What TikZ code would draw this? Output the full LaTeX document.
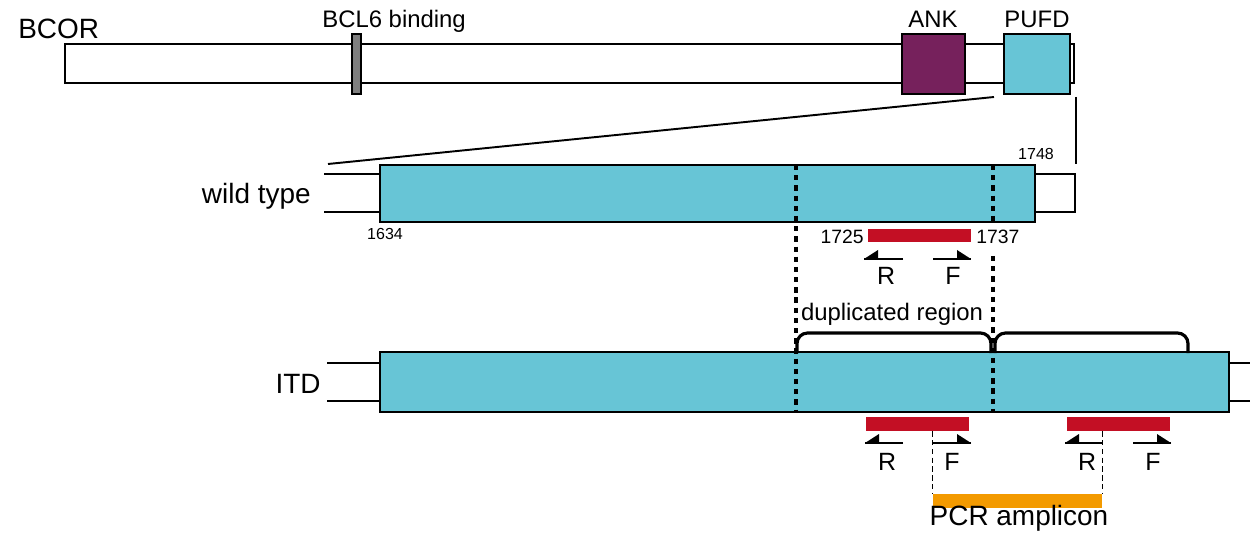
\documentclass[tikz,border=0pt]{standalone}
\usepackage{fontspec}
\setmainfont{Liberation Sans}
\usetikzlibrary{fit}
\definecolor{pufdcyan}{HTML}{67C5D6}
\definecolor{ankpurple}{HTML}{76215C}
\definecolor{primred}{HTML}{C30F24}
\definecolor{amporange}{HTML}{F39A00}
\definecolor{bclgray}{HTML}{7F7F7F}
\begin{document}
\begin{tikzpicture}[x=0.02cm,y=-0.02cm,
  box/.style={inner sep=0pt, outer sep=0pt, draw=black, line width=1.1pt},
  bigtxt/.style={inner sep=0pt, font=\fontsize{15.9}{18}\selectfont},
  midtxt/.style={inner sep=0pt, font=\fontsize{13.6}{16}\selectfont},
  primtxt/.style={inner sep=0pt, font=\fontsize{14.2}{16}\selectfont},
  numtxt/.style={inner sep=0pt, font=\fontsize{11}{13}\selectfont},
  smalltxt/.style={inner sep=0pt, font=\fontsize{9.1}{11}\selectfont},
  stub/.style={line width=1.1pt},
  dotline/.style={line width=2.5pt, dash pattern=on 3pt off 2.8pt},
  primbar/.style={fill=primred},
  primline/.style={line width=1.1pt},
  brace/.style={line width=1.8pt, rounded corners=6pt},
  ampdash/.style={line width=0.9pt, dash pattern=on 3pt off 2pt},
]
\useasboundingbox (0,0) rectangle (1250,540);

% ---------- BCOR protein ----------
\coordinate (bcA) at (65,44); \coordinate (bcB) at (1074,83);
\node[box, fill=white, fit=(bcA)(bcB)] (bcor) {};
\coordinate (bclA) at (352,34); \coordinate (bclB) at (361,94);
\node[box, fill=bclgray, fit=(bclA)(bclB)] (bcl) {};
\coordinate (ankA) at (902,34); \coordinate (ankB) at (965,94);
\node[box, fill=ankpurple, fit=(ankA)(ankB)] (ank) {};
\coordinate (pufA) at (1004,34); \coordinate (pufB) at (1070,94);
\node[box, fill=pufdcyan, fit=(pufA)(pufB)] (pufd) {};

\node[bigtxt, anchor=base west] (lbcor) at (18,39) {BCOR};
\node[midtxt, anchor=base west] (lbcl) at (322,28) {BCL6 binding};
\node[midtxt, anchor=base] (lank) at (933,28) {ANK};
\node[midtxt, anchor=base] (lpufd) at (1037,28) {PUFD};

% ---------- wild type ----------
\coordinate (wtA) at (380,165); \coordinate (wtB) at (1035,222);
\node[box, fill=pufdcyan, fit=(wtA)(wtB)] (wt) {};
\coordinate (wtrA) at (1035,174); \coordinate (wtrB) at (1075,212);
\node[box, fill=white, fit=(wtrA)(wtrB)] (wtr) {};
\coordinate (wtsl1) at (324,174); \coordinate (wtsl2) at (324,212);
\draw[stub] (wtsl1) -- (wtsl1 -| wt.west);
\draw[stub] (wtsl2) -- (wtsl2 -| wt.west);

% zoom lines
\coordinate (zl1) at (994,97); \coordinate (zl2) at (328,164);
\coordinate (zr1) at (1076,97); \coordinate (zr2) at (1076,164);
\draw[line width=1.1pt] (zl1) -- (zl2);
\draw[line width=1.1pt] (zr1) -- (zr2);

\node[bigtxt, anchor=base east] (lwt) at (311,204) {wild type};
\node[smalltxt, anchor=base] (l1634) at (385,240) {1634};
\node[smalltxt, anchor=base] (l1748) at (1036,160) {1748};

% primer region wild type
\coordinate (wpA) at (868,229); \coordinate (wpB) at (971,242);
\node[primbar, inner sep=0pt, fit=(wpA)(wpB)] (wprim) {};
\node[numtxt, anchor=base east] (l1725) at (864,244) {1725};
\node[numtxt, anchor=base west] (l1737) at (976,244) {1737};
\coordinate (wR1) at (903,259); \coordinate (wR2) at (864,259);
\coordinate (wF1) at (933,259); \coordinate (wF2) at (971,259);
\draw[primline] (wR1) -- (wR2);
\fill (wR2) -- ++(14,0) -- ++(0,-9) -- cycle;
\draw[primline] (wF1) -- (wF2);
\fill (wF2) -- ++(-14,0) -- ++(0,-9) -- cycle;
\node[primtxt, anchor=base] (wRl) at (886,285) {R};
\node[primtxt, anchor=base] (wFl) at (953,285) {F};

% ---------- ITD ----------
\coordinate (itA) at (380,352); \coordinate (itB) at (1229,412);
\node[box, fill=pufdcyan, fit=(itA)(itB)] (itd) {};
\coordinate (itsl1) at (327,363); \coordinate (itsl2) at (327,401);
\draw[stub] (itsl1) -- (itsl1 -| itd.west);
\draw[stub] (itsl2) -- (itsl2 -| itd.west);
\coordinate (itsr1) at (1250,363); \coordinate (itsr2) at (1250,401);
\draw[stub] (itsr1 -| itd.east) -- (itsr1);
\draw[stub] (itsr2 -| itd.east) -- (itsr2);
\node[bigtxt, anchor=base east] (litd) at (321,393) {ITD};

% dotted duplication boundaries
\coordinate (d1t) at (796,165); \coordinate (d1b) at (796,412);
\coordinate (d2t) at (993,165); \coordinate (d2m) at (993,222);
\coordinate (d2u) at (993,256); \coordinate (d2b) at (993,412);
\draw[dotline] (d1t) -- (d1b);
\draw[dotline] (d2t) -- (d2m);
\draw[dotline] (d2u) -- (d2b);

% braces
\coordinate (b1a) at (797,353); \coordinate (b1b) at (991,353);
\coordinate (b2a) at (995,353); \coordinate (b2b) at (1188,353);
\draw[brace] (b1a) -- ++(0,-20) -| (b1b);
\draw[brace] (b2a) -- ++(0,-20) -| (b2b);
\node[midtxt, anchor=base] (ldup) at (892,320) {duplicated region};

% primers ITD
\coordinate (p1A) at (866,417); \coordinate (p1B) at (969,431);
\node[primbar, inner sep=0pt, fit=(p1A)(p1B)] (prim1) {};
\coordinate (p2A) at (1067,417); \coordinate (p2B) at (1170,431);
\node[primbar, inner sep=0pt, fit=(p2A)(p2B)] (prim2) {};
\coordinate (iR1a) at (903,443); \coordinate (iR1b) at (865,443);
\coordinate (iF1a) at (933,443); \coordinate (iF1b) at (971,443);
\coordinate (iR2a) at (1102,443); \coordinate (iR2b) at (1065,443);
\coordinate (iF2a) at (1133,443); \coordinate (iF2b) at (1171,443);
\draw[primline] (iR1a) -- (iR1b);
\fill (iR1b) -- ++(14,0) -- ++(0,-9) -- cycle;
\draw[primline] (iF1a) -- (iF1b);
\fill (iF1b) -- ++(-14,0) -- ++(0,-9) -- cycle;
\draw[primline] (iR2a) -- (iR2b);
\fill (iR2b) -- ++(14,0) -- ++(0,-9) -- cycle;
\draw[primline] (iF2a) -- (iF2b);
\fill (iF2b) -- ++(-14,0) -- ++(0,-9) -- cycle;
\node[primtxt, anchor=base] (iR1l) at (887,470) {R};
\node[primtxt, anchor=base] (iF1l) at (952,470) {F};
\node[primtxt, anchor=base] (iR2l) at (1087,470) {R};
\node[primtxt, anchor=base] (iF2l) at (1153,470) {F};

% amplicon
\coordinate (amA) at (933,494); \coordinate (amB) at (1102,508);
\node[fill=amporange, inner sep=0pt, fit=(amA)(amB)] (amp) {};
\draw[ampdash] (prim1.south -| amp.west) -- (amp.north west);
\draw[ampdash] (prim2.south -| amp.east) -- (amp.north east);
\node[bigtxt, anchor=base] (lamp) at (1019,525) {PCR amplicon};
\end{tikzpicture}
\end{document}
